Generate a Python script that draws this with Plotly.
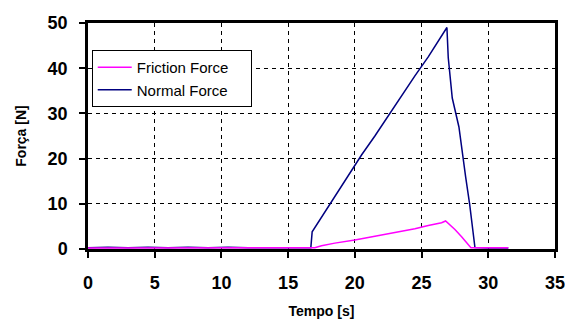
import plotly.graph_objects as go

# Time [s] and force [N]
normal_t = [0, 1.5, 3, 4.5, 6, 7.5, 9, 10.5, 12, 13.5, 15, 16.7, 16.8, 17.5, 18.0, 18.5, 19.5, 20.5, 21.5, 22.5, 23.5, 24.5, 25.5, 26.5, 26.9, 27.0, 27.3, 27.8, 27.95, 28.3, 28.6, 29.0, 30.0, 31.5]
normal_f = [0.3, 0.4, 0.3, 0.4, 0.3, 0.4, 0.3, 0.4, 0.3, 0.3, 0.4, 0.3, 3.8, 7.0, 9.2, 11.5, 16.2, 20.8, 25.0, 29.5, 34.0, 38.3, 42.5, 47.0, 49.0, 42.3, 33.4, 27.0, 23.4, 16.0, 10.0, 0.3, 0.2, 0.2]

friction_t = [0, 5, 10, 15, 17.0, 17.5, 18.5, 20.0, 21.5, 23.0, 24.5, 25.5, 26.5, 26.8, 27.5, 28.0, 28.7, 30.0, 31.5]
friction_f = [0.2, 0.2, 0.2, 0.2, 0.3, 0.7, 1.3, 2.0, 2.8, 3.6, 4.5, 5.2, 5.8, 6.2, 4.3, 2.7, 0.3, 0.3, 0.3]

x_ticks = [0, 5, 10, 15, 20, 25, 30, 35]
y_ticks = [0, 10, 20, 30, 40, 50]

FONT = "Liberation Sans, Arial"
PAD = "&nbsp;" * 4

fig = go.Figure()
fig.add_trace(go.Scatter(x=normal_t, y=normal_f, mode="lines", name="Normal Force" + PAD,
                         line=dict(color="#000080", width=1.5), legendgroup="b"))
fig.add_trace(go.Scatter(x=friction_t, y=friction_f, mode="lines", name="Friction Force" + PAD,
                         line=dict(color="#ff00ff", width=1.5), legendgroup="a"))

axis_common = dict(showline=True, linecolor="black", linewidth=2.5, mirror=True,
                   showgrid=True, gridcolor="black", griddash="4px,4px", gridwidth=1.2,
                   ticks="outside", ticklen=6, tickwidth=1.5, tickcolor="black",
                   zeroline=False, automargin=False, ticklabeloverflow="allow",
                   tickfont=dict(family=FONT, size=18, color="black"))

fig.update_xaxes(range=[0, 35], tickvals=x_ticks, ticktext=[f"<b>{v}</b>" for v in x_ticks],
                 ticklabelstandoff=10,
                 title=dict(text="<b>Tempo [s]</b>", font=dict(family=FONT, size=14, color="black"), standoff=14),
                 **axis_common)
fig.update_yaxes(range=[0, 50], tickvals=y_ticks, ticktext=[f"<b>{v}</b>" for v in y_ticks],
                 ticklabelstandoff=8,
                 title=dict(text="<b>Força [N]</b>", font=dict(family=FONT, size=14, color="black"), standoff=18),
                 **axis_common)

fig.update_layout(
    width=565, height=320,
    margin=dict(l=88, r=10, t=23, b=71),
    paper_bgcolor="white", plot_bgcolor="white",
    legend=dict(x=0.008, y=0.88, xanchor="left", yanchor="top",
                bgcolor="white", bordercolor="black", borderwidth=1,
                font=dict(family=FONT, size=15, color="black"),
                tracegroupgap=2, itemwidth=34, traceorder="reversed"),
    showlegend=True,
)

fig.write_html("out.html")
